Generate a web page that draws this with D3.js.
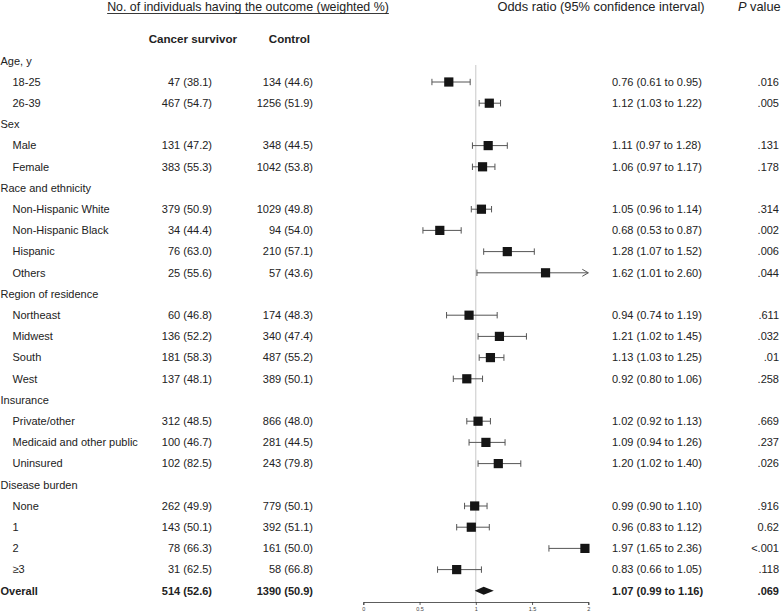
<!DOCTYPE html>
<html>
<head>
<meta charset="utf-8">
<script src="https://cdn.jsdelivr.net/npm/d3@7"></script>
<style>
  html, body { margin: 0; padding: 0; background: #fff; }
  svg { display: block; font-family: "Liberation Sans", Arial, sans-serif; }
</style>
</head>
<body>
<svg id="chart" width="781" height="614"></svg>
<script>
// ---------------- DATA ----------------
const labels = [
  "Age, y", "18-25", "26-39",
  "Sex", "Male", "Female",
  "Race and ethnicity", "Non-Hispanic White", "Non-Hispanic Black", "Hispanic", "Others",
  "Region of residence", "Northeast", "Midwest", "South", "West",
  "Insurance", "Private/other", "Medicaid and other public", "Uninsured",
  "Disease burden", "None", "1", "2", "≥3",
  "Overall"
];
// row type: h = group header, i = item, o = overall
const rowType = ["h","i","i","h","i","i","h","i","i","i","i","h","i","i","i","i","h","i","i","i","h","i","i","i","i","o"];
const survivorText = ["","47 (38.1)","467 (54.7)","","131 (47.2)","383 (55.3)","","379 (50.9)","34 (44.4)","76 (63.0)","25 (55.6)","","60 (46.8)","136 (52.2)","181 (58.3)","137 (48.1)","","312 (48.5)","100 (46.7)","102 (82.5)","","262 (49.9)","143 (50.1)","78 (66.3)","31 (62.5)","514 (52.6)"];
const controlText = ["","134 (44.6)","1256 (51.9)","","348 (44.5)","1042 (53.8)","","1029 (49.8)","94 (54.0)","210 (57.1)","57 (43.6)","","174 (48.3)","340 (47.4)","487 (55.2)","389 (50.1)","","866 (48.0)","281 (44.5)","243 (79.8)","","779 (50.1)","392 (51.1)","161 (50.0)","58 (66.8)","1390 (50.9)"];
const oddsRatio = [null,0.76,1.12,null,1.11,1.06,null,1.05,0.68,1.28,1.62,null,0.94,1.21,1.13,0.92,null,1.02,1.09,1.20,null,0.99,0.96,1.97,0.83,1.07];
const ciLow     = [null,0.61,1.03,null,0.97,0.97,null,0.96,0.53,1.07,1.01,null,0.74,1.02,1.03,0.80,null,0.92,0.94,1.02,null,0.90,0.83,1.65,0.66,0.99];
const ciHigh    = [null,0.95,1.22,null,1.28,1.17,null,1.14,0.87,1.52,2.60,null,1.19,1.45,1.25,1.06,null,1.13,1.26,1.40,null,1.10,1.12,2.36,1.05,1.16];
const pValues   = ["",".016",".005","",".131",".178","",".314",".002",".006",".044","",".611",".032",".01",".258","",".669",".237",".026","",".916","0.62","<.001",".118",".069"];
const axisTicks = [0, 0.5, 1, 1.5, 2];

// ---------------- LAYOUT ----------------
const svg = d3.select("#chart");
const textColor = "#222";
const fontSize = 11;

const x = d3.scaleLinear().domain([0, 2]).range([363.3, 588.3]);
const y = d3.scaleLinear().domain([0, 25]).range([60.8, 590.8]);

const rows = labels.map((l, i) => ({
  label: l, type: rowType[i], surv: survivorText[i], ctrl: controlText[i],
  or: oddsRatio[i], lo: ciLow[i], hi: ciHigh[i], p: pValues[i], i
}));

// Headers
const title = svg.append("text")
  .attr("x", 248).attr("y", 11)
  .attr("text-anchor", "middle")
  .attr("font-size", 12.4).attr("fill", textColor)
  .text("No. of individuals having the outcome (weighted %)");
const tb = title.node().getBBox();
svg.append("line")
  .attr("x1", tb.x).attr("x2", tb.x + tb.width)
  .attr("y1", 13.5).attr("y2", 13.5)
  .attr("stroke", textColor).attr("stroke-width", 0.9);

svg.append("text").attr("x", 237).attr("y", 43).attr("text-anchor", "end")
  .attr("font-size", 11.6).attr("font-weight", "bold").attr("fill", textColor)
  .text("Cancer survivor");
svg.append("text").attr("x", 310).attr("y", 43).attr("text-anchor", "end")
  .attr("font-size", 11.6).attr("font-weight", "bold").attr("fill", textColor)
  .text("Control");
svg.append("text").attr("x", 601).attr("y", 11).attr("text-anchor", "middle")
  .attr("font-size", 12.8).attr("fill", textColor)
  .text("Odds ratio (95% confidence interval)");
const pv = svg.append("text").attr("x", 738).attr("y", 11)
  .attr("font-size", 12.8).attr("fill", textColor);
pv.append("tspan").attr("font-style", "italic").text("P");
pv.append("tspan").text(" value");

// Row texts
const g = svg.append("g");
const rowG = g.selectAll("g.row").data(rows).join("g")
  .attr("class", "row")
  .attr("transform", d => `translate(0,${y(d.i)})`);

rowG.append("text")
  .attr("x", d => d.type === "i" ? 12.5 : 0.5)
  .attr("dy", "0.35em")
  .attr("font-size", fontSize)
  .attr("font-weight", d => d.type === "o" ? "bold" : "normal")
  .attr("fill", textColor)
  .text(d => d.label);

rowG.filter(d => d.type !== "h").append("text")
  .attr("x", 212).attr("dy", "0.35em").attr("text-anchor", "end")
  .attr("font-size", fontSize)
  .attr("font-weight", d => d.type === "o" ? "bold" : "normal")
  .attr("fill", textColor).text(d => d.surv);

rowG.filter(d => d.type !== "h").append("text")
  .attr("x", 313).attr("dy", "0.35em").attr("text-anchor", "end")
  .attr("font-size", fontSize)
  .attr("font-weight", d => d.type === "o" ? "bold" : "normal")
  .attr("fill", textColor).text(d => d.ctrl);

rowG.filter(d => d.type !== "h").append("text")
  .attr("x", 612).attr("dy", "0.35em")
  .attr("font-size", fontSize)
  .attr("font-weight", d => d.type === "o" ? "bold" : "normal")
  .attr("fill", textColor)
  .text(d => `${d.or.toFixed(2)} (${d.lo.toFixed(2)} to ${d.hi.toFixed(2)})`);

rowG.filter(d => d.type !== "h").append("text")
  .attr("x", 779).attr("dy", "0.35em").attr("text-anchor", "end")
  .attr("font-size", fontSize)
  .attr("font-weight", d => d.type === "o" ? "bold" : "normal")
  .attr("fill", textColor).text(d => d.p);

// Reference line at 1
svg.append("line")
  .attr("x1", x(1)).attr("x2", x(1))
  .attr("y1", 65).attr("y2", 602)
  .attr("stroke", "#c8c8c8").attr("stroke-width", 1);

// Forest marks
const [dMin, dMax] = x.domain();
const items = rows.filter(d => d.type === "i");
const cap = 3.2;
const fg = svg.append("g");
const itemG = fg.selectAll("g.ci").data(items).join("g")
  .attr("class", "ci")
  .attr("transform", d => `translate(0,${y(d.i)})`);

itemG.append("line")
  .attr("x1", d => x(Math.max(d.lo, dMin)))
  .attr("x2", d => x(Math.min(d.hi, dMax)))
  .attr("stroke", "#555").attr("stroke-width", 1);
itemG.filter(d => d.lo >= dMin).append("line")
  .attr("x1", d => x(d.lo)).attr("x2", d => x(d.lo))
  .attr("y1", -cap).attr("y2", cap)
  .attr("stroke", "#555").attr("stroke-width", 1);
itemG.filter(d => d.hi <= dMax).append("line")
  .attr("x1", d => x(d.hi)).attr("x2", d => x(d.hi))
  .attr("y1", -cap).attr("y2", cap)
  .attr("stroke", "#555").attr("stroke-width", 1);
itemG.filter(d => d.hi > dMax).append("path")
  .attr("d", () => `M${x(dMax) - 6},${-3.5} L${x(dMax)},0 L${x(dMax) - 6},${3.5}`)
  .attr("fill", "none").attr("stroke", "#555").attr("stroke-width", 1);
itemG.append("rect")
  .attr("x", d => x(d.or) - 4.6).attr("y", -4.6)
  .attr("width", 9.2).attr("height", 9.2)
  .attr("fill", "#151515");

// Overall diamond
const overall = rows.filter(d => d.type === "o");
svg.selectAll("path.diamond").data(overall).join("path")
  .attr("class", "diamond")
  .attr("d", d => {
    const yy = y(d.i);
    return `M${x(d.lo)},${yy} L${x(d.or)},${yy - 4} L${x(d.hi)},${yy} L${x(d.or)},${yy + 4} Z`;
  })
  .attr("fill", "#151515");

// Axis
const axis = d3.axisBottom(x).tickValues(axisTicks).tickSize(3).tickPadding(2)
  .tickFormat(d3.format("~g"));
const ag = svg.append("g").attr("transform", "translate(0,602)").call(axis);
ag.select(".domain").attr("stroke", "#333").attr("stroke-width", 0.8);
ag.selectAll(".tick line").attr("stroke", "#333").attr("stroke-width", 0.8);
ag.selectAll(".tick text").attr("font-size", 5.5).attr("fill", "#444")
  .attr("font-family", "Liberation Sans, Arial, sans-serif");
</script>
</body>
</html>
